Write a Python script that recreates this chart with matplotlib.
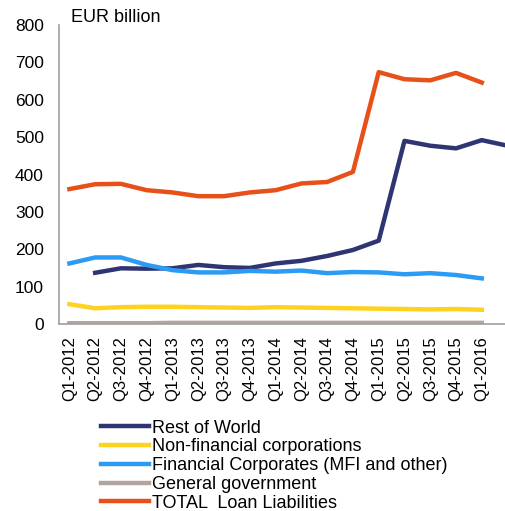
import matplotlib.pyplot as plt
import numpy as np

plt.rcParams['font.family'] = ['Liberation Sans', 'DejaVu Sans']

quarters = ['Q1-2012', 'Q2-2012', 'Q3-2012', 'Q4-2012',
            'Q1-2013', 'Q2-2013', 'Q3-2013', 'Q4-2013',
            'Q1-2014', 'Q2-2014', 'Q3-2014', 'Q4-2014',
            'Q1-2015', 'Q2-2015', 'Q3-2015', 'Q4-2015',
            'Q1-2016']

# Rest of World starts one quarter later and runs one past the last label
rest_of_world = [137, 149, 148, 149, 158, 152, 150, 162, 169, 182, 198,
                 223, 490, 477, 470, 492, 477]
non_financial = [53, 42, 45, 46, 46, 45, 44, 43, 45, 44, 43, 42, 41,
                 40, 39, 40, 38]
financial = [162, 178, 178, 158, 144, 138, 138, 142, 140, 143, 136, 139,
             138, 133, 136, 131, 122]
general_gov = [2, 2, 2, 2, 3, 3, 3, 3, 3, 3, 3, 3, 3, 3, 3, 3, 3]
total = [361, 374, 375, 358, 352, 342, 342, 352, 358, 376, 380, 407,
         674, 655, 652, 672, 646]

x = np.arange(len(quarters))

fig = plt.figure(figsize=(5.05, 5.11), dpi=100)
ax = fig.add_axes([0.117, 0.366, 0.883, 0.585])

lw = 3.2
ax.plot(np.arange(1, 18), rest_of_world, color='#2E3572', lw=lw, label='Rest of World')
ax.plot(x, non_financial, color='#FFD21F', lw=lw, label='Non-financial corporations')
ax.plot(x, financial, color='#2B9BF4', lw=lw, label='Financial Corporates (MFI and other)')
ax.plot(x, general_gov, color='#B3A59D', lw=lw, label='General government')
ax.plot(x, total, color='#E8501A', lw=lw, label='TOTAL  Loan Liabilities')

ax.set_xlim(-0.4, 16.9)
ax.set_ylim(0, 800)
ax.set_xticks(x)
ax.set_xticklabels(quarters, rotation=90, fontsize=12)
ax.set_yticks(range(0, 801, 100))
ax.tick_params(axis='y', labelsize=12.5, length=0, pad=11)
ax.tick_params(axis='x', length=0, pad=9)

for s in ['top', 'right']:
    ax.spines[s].set_visible(False)
for s in ['left', 'bottom']:
    ax.spines[s].set_color('#A0A0A0')
    ax.spines[s].set_linewidth(1.2)

fig.text(0.14, 0.965, 'EUR billion', fontsize=13, va='center')

fig.legend(loc='upper left', bbox_to_anchor=(0.2, 0.179),
           frameon=False, fontsize=13, handlelength=2.65, handletextpad=0.17,
           labelspacing=0.1, borderaxespad=0, borderpad=0)

fig.savefig('out.png', dpi=100)
